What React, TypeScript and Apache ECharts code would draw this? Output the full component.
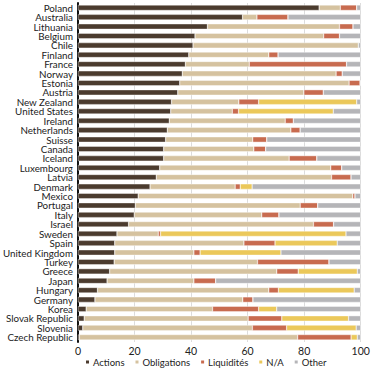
import React, { useEffect, useRef } from "react";
import * as echarts from "echarts";

const countries = ["Poland","Australia","Lithuania","Belgium","Chile","Finland","France","Norway","Estonia","Austria","New Zealand","United States","Ireland","Netherlands","Suisse","Canada","Iceland","Luxembourg","Latvia","Denmark","Mexico","Portugal","Italy","Israel","Sweden","Spain","United Kingdom","Turkey","Greece","Japan","Hungary","Germany","Korea","Slovak Republic","Slovenia","Czech Republic"];

const actions = [85.3,58.2,45.8,41.4,40.7,39.2,38.0,36.9,36.0,35.3,33.1,32.8,32.3,31.6,31.0,30.3,30.3,28.9,27.7,25.5,21.3,20.3,19.9,17.9,13.8,13.0,13.0,12.8,11.2,10.3,6.9,6.0,2.9,2.2,1.7,0.5];
const obligations = [7.5,5.1,46.7,45.5,58.5,28.3,22.6,54.4,59.9,44.6,23.8,21.8,41.0,43.7,30.8,31.9,44.4,60.5,62.0,30.1,75.9,58.3,45.1,65.4,14.6,45.7,28.0,50.7,59.1,30.7,60.6,52.3,44.7,58.0,60.0,77.2];
const liquidites = [5.8,11.0,4.8,5.6,0,3.3,34.4,2.2,3.9,6.9,7.0,2.2,2.9,3.3,5.0,4.2,9.8,3.9,6.9,1.8,0.8,6.2,6.1,7.1,0.8,11.0,2.2,25.3,7.6,7.7,3.4,3.6,16.3,11.9,12.1,18.9];
const na = [0,0,0,0,0,0,0,0,0,0,34.7,33.5,0,0,0,0,0,0,0,4.2,0,0,0,0,65.6,22.0,28.6,0,20.9,0,26.8,0,6.4,23.6,24.6,2.2];
const other = [1.4,25.7,2.7,7.5,0.8,29.2,5.0,6.5,0.2,13.2,1.4,9.7,23.8,21.4,33.2,33.6,15.5,6.7,3.4,38.4,2.0,15.2,28.9,9.6,5.2,8.3,28.2,11.2,1.2,51.3,2.3,38.1,29.7,4.3,1.6,1.2];

const seriesNames = ["Actions", "Obligations", "Liquidités", "N/A", "Other"];
const seriesData = [actions, obligations, liquidites, na, other];
const colors = ["#4b3b2e", "#d5c29f", "#c86b4f", "#ebc85a", "#b5b5b8"];
const xTicks = [0, 20, 40, 60, 80, 100];

export default function App() {
  const ref = useRef<HTMLDivElement>(null);
  useEffect(() => {
    if (!ref.current) return;
    const chart = echarts.init(ref.current, null, { renderer: "svg" });
    const font = "Lato, 'Noto Sans', sans-serif";
    chart.setOption({
      animation: false,
      textStyle: { fontFamily: font },
      grid: { left: 72.7, right: 14.3, top: 3, bottom: 29, containLabel: false },
      legend: {
        top: 357,
        left: 84,
        padding: 0,
        itemWidth: 5,
        itemHeight: 5,
        itemGap: 9,
        icon: "rect",
        textStyle: { fontSize: 9.5, color: "#222", fontFamily: font, padding: [0, 0, 0, -2], lineHeight: 10 },
        data: seriesNames,
      },
      xAxis: {
        type: "value",
        min: xTicks[0],
        max: xTicks[xTicks.length - 1],
        interval: 20,
        axisLine: { show: false },
        axisTick: { show: false },
        axisLabel: { fontSize: 10.5, color: "#222", margin: 4, lineHeight: 10 },
        splitLine: { lineStyle: { color: "#dcdcdc", width: 1 } },
      },
      yAxis: {
        type: "category",
        data: countries,
        inverse: true,
        axisLine: { show: true, lineStyle: { color: "#111", width: 2 } },
        axisTick: { show: false },
        axisLabel: { fontSize: 9.8, color: "#222", margin: 5, interval: 0, lineHeight: 9 },
      },
      series: seriesNames.map((name, i) => ({
        name,
        type: "bar",
        stack: "total",
        barWidth: "58%",
        data: seriesData[i],
        itemStyle: { color: colors[i], borderColor: "#ffffff", borderWidth: 0.4 },
      })),
    });
    return () => chart.dispose();
  }, []);
  return <div ref={ref} style={{ width: 375, height: 371, position: "absolute", left: 0, top: 0 }} />;
}
